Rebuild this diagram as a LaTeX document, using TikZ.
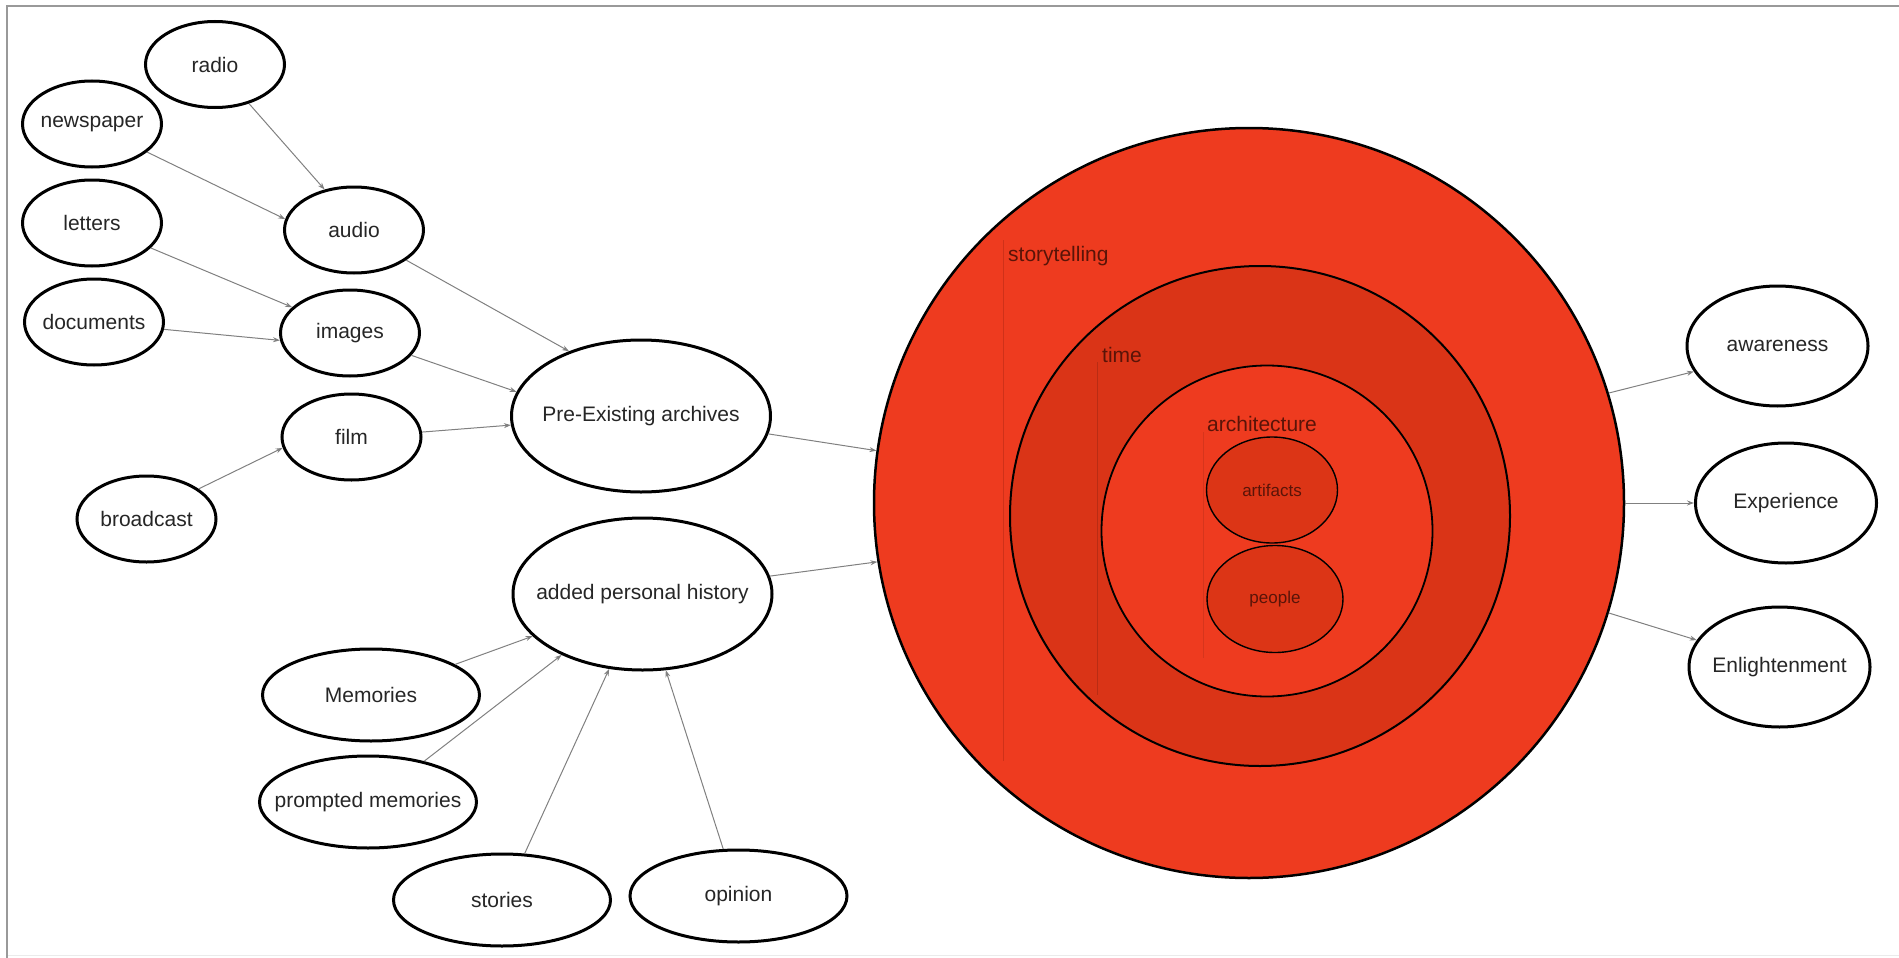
\documentclass[tikz,border=0pt]{standalone}
\usepackage{fontspec}
\setmainfont{Liberation Sans}
\usetikzlibrary{shapes.geometric,arrows.meta}
\definecolor{outerred}{HTML}{EE3B1F}
\definecolor{timered}{HTML}{DA3417}
\definecolor{innerred}{HTML}{DC3516}
\definecolor{labelred}{HTML}{5A1408}
\definecolor{edgered}{HTML}{CF3119}
\definecolor{nodetext}{HTML}{262626}
\newcommand{\mytxt}[1]{\makebox[0pt]{#1}}
\begin{document}
\begin{tikzpicture}[x=1pt,y=-1pt,
  nd/.style={ellipse, draw=black, line width=3pt, fill=white, inner sep=0pt,
     font=\fontsize{21}{25}\selectfont, text=nodetext},
  smallnd/.style={nd, minimum width=139pt, minimum height=86pt},
  widend/.style={nd, minimum width=217pt, minimum height=92pt},
  bignd/.style={nd, minimum width=259pt, minimum height=152pt},
  outnd/.style={nd, minimum width=181pt, minimum height=120pt},
  arr/.style={draw=black!50, line width=1pt, -{Stealth[length=7pt,width=5pt]}},
  ring/.style={draw=black, inner sep=0pt},
  ringlabel/.style={anchor=base west, inner sep=0pt, text=labelred,
     font=\fontsize{21}{25}\selectfont},
  edgeline/.style={draw=edgered, line width=0.9pt}]
\useasboundingbox (0,0) rectangle (1899,958);
% frame
\draw[black!8, line width=1pt] (7,955) -- (1899,955);
\draw[black!40, line width=1.5pt] (7,958) -- (7,6) -- (1899,6);

% left nodes
\node[smallnd] (radio) at (215,64.5) {\mytxt{radio}};
\node[smallnd] (newspaper) at (92,124) {\mytxt{newspaper}};
\node[smallnd] (letters) at (92,223) {\mytxt{letters}};
\node[smallnd] (documents) at (94,322) {\mytxt{documents}};
\node[smallnd] (audio) at (354,230) {\mytxt{audio}};
\node[smallnd] (images) at (350,333) {\mytxt{images}};
\node[smallnd] (film) at (351.5,437) {\mytxt{film}};
\node[smallnd] (broadcast) at (146.5,519) {\mytxt{broadcast}};
\node[bignd] (pea) at (641,416) {\mytxt{Pre-Existing archives}};
\node[bignd] (aph) at (642.5,594) {\mytxt{added personal history}};
\node[widend] (memories) at (371,695) {\mytxt{Memories}};
\node[widend] (prompted) at (368,802) {\mytxt{prompted memories}};
\node[widend] (stories) at (502,900) {\mytxt{stories}};
\node[widend] (opinion) at (738.5,896) {\mytxt{opinion}};

% right nodes
\node[outnd] (awareness) at (1777.5,346) {\mytxt{awareness}};
\node[outnd] (experience) at (1786,503) {\mytxt{Experience}};
\node[outnd] (enlight) at (1779.5,667) {\mytxt{Enlightenment}};

% concentric circles
\node[ring, circle, line width=2.5pt, fill=outerred, minimum size=750pt] (story) at (1249,503) {};
\node[ring, circle, line width=2pt, fill=timered, minimum size=500pt] (time) at (1260,516) {};
\node[ring, circle, line width=1.8pt, fill=outerred, minimum size=331pt] (arch) at (1267,531) {};
\node[ring, ellipse, line width=1.4pt, fill=innerred, minimum width=131pt, minimum height=106pt,
      font=\fontsize{17}{20}\selectfont, text=labelred] (artifacts) at (1272,490) {\mytxt{artifacts}};
\node[ring, ellipse, line width=1.4pt, fill=innerred, minimum width=136pt, minimum height=107pt,
      font=\fontsize{17}{20}\selectfont, text=labelred] (people) at (1275,599) {\mytxt{people}};

% faint text-box edges
\draw[edgeline] (1003,240) -- (1003,761);
\draw[edgeline, draw=timered!85!black] (1097,362) -- (1097,695);
\draw[edgeline, draw=outerred!90!black] (1203,432) -- (1203,658);

% ring labels
\node[ringlabel] (lstory) at (1008,261) {storytelling};
\node[ringlabel] (ltime) at (1102,362) {time};
\node[ringlabel] (larch) at (1207,431) {architecture};

% connectors
\draw[arr] (radio.-49) -- (audio.126);
\draw[arr] (newspaper.-27) -- (audio.171);
\draw[arr] (letters.-23) -- (images.156);
\draw[arr] (documents.-6) -- (images.186);
\draw[arr] (audio.-30) -- (pea.138);
\draw[arr] (images.-20) -- (pea.169);
\draw[arr] (film.4) -- (pea.184);
\draw[arr] (broadcast.30) -- (film.189);
\draw[arr] (pea.-8) -- (story.172);
\draw[arr] (aph.8) -- (story.189);
\draw[arr] (memories.20) -- (aph.201);
\draw[arr] (prompted.36) -- (aph.217);
\draw[arr] (stories.64) -- (aph.246);
\draw[arr] (opinion.108) -- (aph.-73);
\draw[arr] (story.17) -- (awareness.197);
\draw[arr] (story.0) -- (experience.180);
\draw[arr] (story.-17) -- (enlight.162);
\end{tikzpicture}
\end{document}
